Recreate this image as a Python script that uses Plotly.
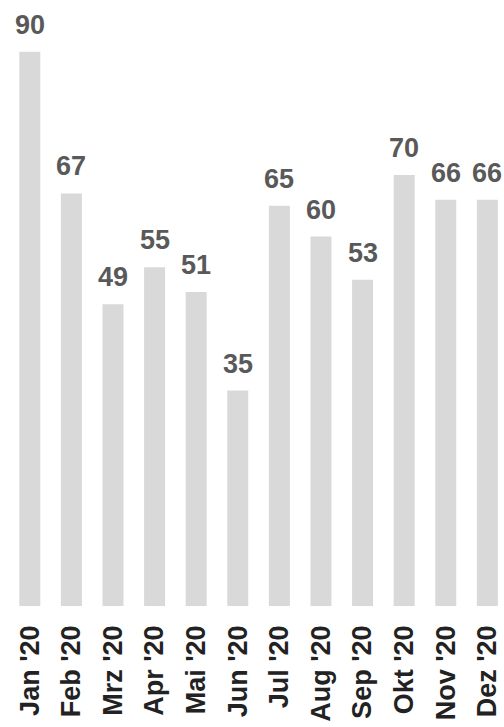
import plotly.graph_objects as go

months = ["Jan '20", "Feb '20", "Mrz '20", "Apr '20", "Mai '20", "Jun '20",
          "Jul '20", "Aug '20", "Sep '20", "Okt '20", "Nov '20", "Dez '20"]
values = [90, 67, 49, 55, 51, 35, 65, 60, 53, 70, 66, 66]

FONT = "Liberation Sans, Arial, sans-serif"

fig = go.Figure()
fig.add_trace(go.Bar(
    x=months, y=values,
    marker=dict(color="#d9d9d9", line=dict(width=0)),
    hoverinfo="skip",
))

for m, v in zip(months, values):
    fig.add_annotation(
        x=m, y=v, text=str(v), showarrow=False,
        xanchor="center", yanchor="bottom", yshift=10,
        font=dict(family=FONT, size=27, color="#595959", weight="bold"),
    )

fig.update_layout(
    width=504, height=727,
    margin=dict(l=9, r=0, t=10, b=121),
    paper_bgcolor="white", plot_bgcolor="white",
    bargap=0.495,
    showlegend=False,
    xaxis=dict(
        range=[-0.5, 11.4],
        tickangle=-90,
        tickfont=dict(family=FONT, size=27, color="#222222", weight="bold"),
        showgrid=False, zeroline=False, showline=False,
        ticks="", ticklabelstandoff=13,
    ),
    yaxis=dict(
        range=[0, 96.8],
        visible=False,
        showgrid=False, zeroline=False,
    ),
)

fig.write_html(
    "out.html",
    config={"displayModeBar": False},
    post_script="document.body.style.margin='0';document.body.style.overflow='hidden';",
)
